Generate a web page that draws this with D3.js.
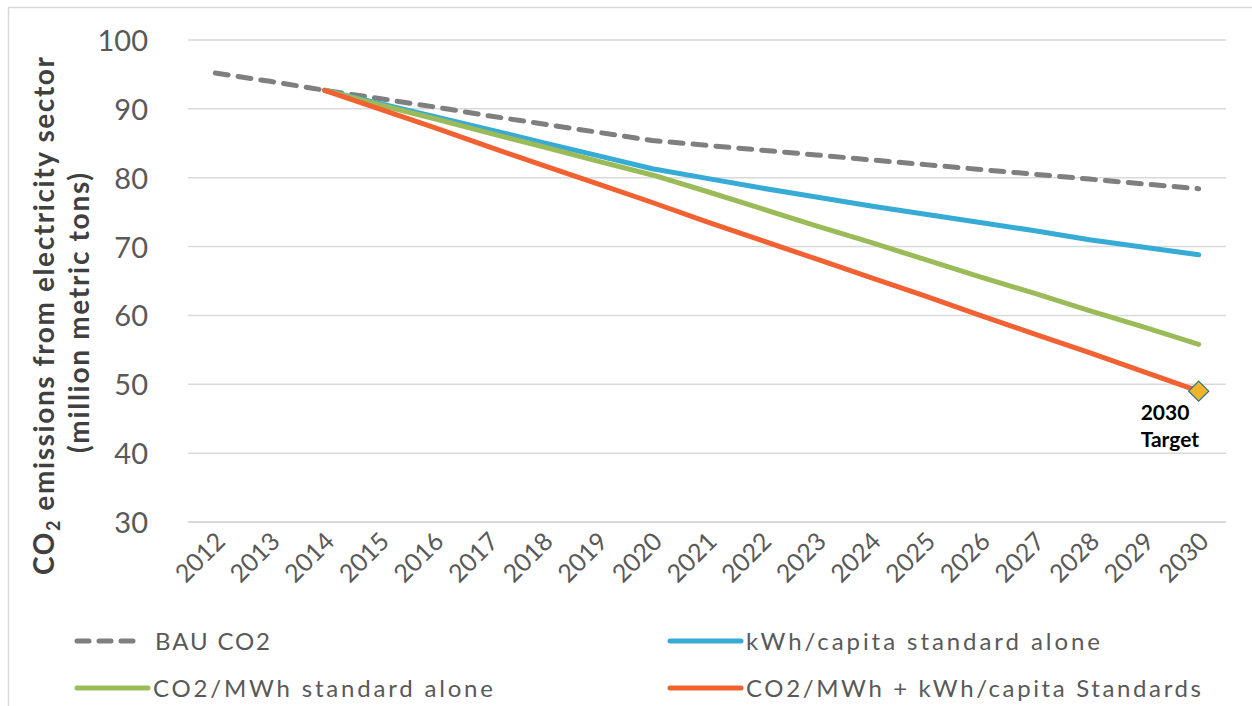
<!DOCTYPE html>
<html><head><meta charset="utf-8">
<script src="https://cdn.jsdelivr.net/npm/d3@7"></script>
<style>
body{margin:0;background:#fff;}
svg{display:block;font-family:"Lato","Open Sans",sans-serif;}
</style></head>
<body><svg id="c" width="1252" height="706"></svg>
<script>
const years = ["2012","2013","2014","2015","2016","2017","2018","2019","2020","2021","2022","2023","2024","2025","2026","2027","2028","2029","2030"];
const bau = [95.2,94.0,92.7,91.5,90.3,89.0,87.8,86.6,85.4,84.7,84.0,83.3,82.6,81.9,81.2,80.5,79.8,79.1,78.4];
const kwh = [null,null,92.7,90.8,88.9,87.0,85.1,83.2,81.3,79.9,78.5,77.2,75.9,74.7,73.5,72.3,71.0,69.9,68.8];
const mwh = [null,null,92.7,90.6,88.6,86.5,84.5,82.4,80.4,78.0,75.5,73.0,70.6,68.1,65.6,63.2,60.7,58.3,55.8];
const both = [null,null,92.7,90.0,87.3,84.5,81.8,79.1,76.4,73.6,70.9,68.2,65.5,62.8,60.0,57.3,54.6,51.8,49.0];
const yTicks = [30,40,50,60,70,80,90,100];
const target = {year:"2030", value:49.0, label:["2030","Target"]};
const seriesNames = ["BAU CO2","kWh/capita standard alone","CO2/MWh standard alone","CO2/MWh + kWh/capita Standards"];
const seriesColors = ["#7f7f7f","#36abd6","#9bbb59","#f26131"];

const FONT = "Lato,'Open Sans',sans-serif";
const svg = d3.select("#c");
const x = d3.scalePoint().domain(years).range([188,1226]).padding(0.5);
const y = d3.scaleLinear().domain([30,100]).range([522,40]);

// frame
svg.append("path").attr("d","M8.5,720 L8.5,7.5 L1260,7.5").attr("fill","none").attr("stroke","#d9d9d9").attr("stroke-width",1.5);

// gridlines
svg.append("g").selectAll("line").data(yTicks).join("line")
  .attr("x1",188).attr("x2",1226).attr("y1",d=>y(d)).attr("y2",d=>y(d))
  .attr("stroke","#d9d9d9").attr("stroke-width",d=>d===30?2:1.5);

// y axis
const ya = svg.append("g").attr("transform","translate(188,0)")
  .call(d3.axisLeft(y).tickValues(yTicks).tickSize(0).tickPadding(40));
ya.select(".domain").remove();
ya.selectAll("text").attr("font-size",29).attr("fill","#595959")
  .attr("font-family",FONT).attr("dy","0.36em");

// x axis
const xa = svg.append("g").attr("transform","translate(0,522)")
  .call(d3.axisBottom(x).tickSize(0).tickPadding(0));
xa.select(".domain").remove();
xa.selectAll("text").attr("font-size",25).attr("fill","#595959")
  .attr("font-family",FONT)
  .attr("text-anchor","end").attr("dy","0")
  .attr("transform","translate(11,21) rotate(-45)");

// y title
const yt1 = svg.append("text").attr("transform","translate(54,316) rotate(-90)")
  .attr("text-anchor","middle").attr("fill","#404040").attr("font-weight","bold")
  .attr("font-size",28).attr("font-family",FONT)
  .attr("textLength",518).attr("lengthAdjust","spacing");
yt1.append("tspan").text("CO");
yt1.append("tspan").attr("font-size",18).attr("dy",6).text("2");
yt1.append("tspan").attr("dy",-6).text(" emissions from electricity sector");
svg.append("text").attr("transform","translate(89,313) rotate(-90)")
  .attr("text-anchor","middle").attr("fill","#404040").attr("font-weight","bold")
  .attr("font-size",28).attr("font-family",FONT)
  .attr("textLength",280).attr("lengthAdjust","spacing")
  .text("(million metric tons)");

// lines
const line = d3.line().defined(d=>d!=null).x((d,i)=>x(years[i])).y(d=>y(d));
const data = [bau,kwh,mwh,both];
const order = [0,1,2,3];
svg.append("g").selectAll("path").data(order).join("path")
  .attr("d",i=>line(data[i]))
  .attr("fill","none").attr("stroke",i=>seriesColors[i]).attr("stroke-width",5)
  .attr("stroke-linecap","round").attr("stroke-linejoin","round")
  .attr("stroke-dasharray",i=>i===0?"13,10":null);

// target marker
const tx = x(target.year), ty = y(target.value);
svg.append("path").attr("d",d3.symbol().type(d3.symbolDiamond2).size(260)())
  .attr("transform",`translate(${tx},${ty})`)
  .attr("fill","#f0b429").attr("stroke","#2f6f8f").attr("stroke-width",1.2);
svg.append("g").selectAll("text").data(target.label).join("text")
  .attr("x",tx-58).attr("y",(d,i)=>ty+29+i*27).attr("text-anchor","start")
  .attr("font-size",21).attr("font-weight","bold").attr("fill","#000")
  .attr("font-family",FONT).text(d=>d);

// legend
const legPos = [[77,641],[670,641],[77,688],[670,688]];
const legLen = [115,354,340,455];
const leg = svg.append("g").selectAll("g").data(order).join("g")
  .attr("transform",i=>`translate(${legPos[i][0]},${legPos[i][1]})`);
leg.append("line").attr("x1",0).attr("x2",i=>i===0?61:71).attr("y1",0).attr("y2",0)
  .attr("stroke",i=>seriesColors[i]).attr("stroke-width",5).attr("stroke-linecap","round")
  .attr("stroke-dasharray",i=>i===0?"12,10":null);
leg.append("text").attr("x",i=>i===0?78:76).attr("y",9).attr("font-size",24).attr("fill","#595959")
  .attr("font-family",FONT)
  .attr("textLength",i=>legLen[i]).attr("lengthAdjust","spacing")
  .text(i=>seriesNames[i]);
</script></body></html>
